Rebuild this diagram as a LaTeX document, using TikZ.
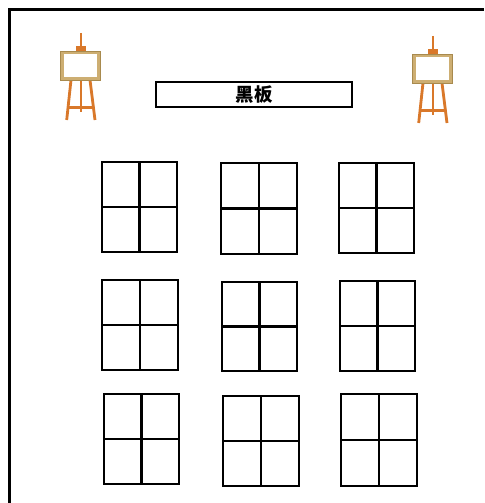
\documentclass[tikz,border=0pt]{standalone}
\usepackage{tikz}
\usepackage{fontspec}
\newfontfamily\cjk{Noto Sans CJK SC}
\definecolor{easelwood}{HTML}{D9782A}
\definecolor{framegold}{HTML}{CDAE72}
\definecolor{frameedge}{HTML}{A88A4E}

\begin{document}
\begin{tikzpicture}[scale=0.2]
\tikzstyle{every node}+=[inner sep=0pt]
\tikzstyle{wall}=[black, line width=1.3pt]
\tikzstyle{desk}=[black, line width=1.25pt]
\tikzstyle{wood}=[easelwood, line width=1.6pt]
\tikzstyle{canvas}=[draw=frameedge, fill=framegold, line width=0.4pt]
\useasboundingbox (0,0) rectangle (48.4,-50.3);
% walls of the room
\draw [wall] (0.95,-50.3) -- (0.95,-0.95) -- (48.4,-0.95);
% blackboard
\draw [desk] (15.6,-8.23) rectangle (35.23,-10.73);
\draw (25.4,-9.5) node (heiban) {\cjk\bfseries\fontsize{10.5}{12}\selectfont 黑板};
% left easel
\draw [wood] (8.1,-3.3) -- (8.1,-5.1);
\fill [easelwood] (7.6,-4.6) rectangle (8.6,-5.15);
\draw [wood] (7.1,-8.0) -- (6.67,-12.0);
\draw [wood] (8.1,-8.0) -- (8.1,-11.2);
\draw [wood] (9.0,-8.0) -- (9.5,-12.0);
\draw [wood] (6.85,-10.73) -- (9.3,-10.73);
\draw [canvas] (6.0,-5.1) rectangle (10.07,-8.07);
\fill [white] (6.35,-5.45) rectangle (9.72,-7.72);
% right easel
\draw [wood] (43.3,-3.6) -- (43.3,-5.4);
\fill [easelwood] (42.8,-4.9) rectangle (43.8,-5.45);
\draw [wood] (42.3,-8.3) -- (41.87,-12.3);
\draw [wood] (43.3,-8.3) -- (43.3,-11.5);
\draw [wood] (44.2,-8.3) -- (44.7,-12.3);
\draw [wood] (42.05,-11.03) -- (44.5,-11.03);
\draw [canvas] (41.2,-5.4) rectangle (45.27,-8.37);
\fill [white] (41.55,-5.75) rectangle (44.92,-8.02);
% desks, first row
\draw [desk] (10.2,-16.2) rectangle (17.7,-25.2) (13.95,-16.2) -- (13.95,-25.2) (10.2,-20.7) -- (17.7,-20.7);
\draw [desk] (22.1,-16.3) rectangle (29.7,-25.4) (25.9,-16.3) -- (25.9,-25.4) (22.1,-20.85) -- (29.7,-20.85);
\draw [desk] (33.9,-16.3) rectangle (41.4,-25.3) (37.65,-16.3) -- (37.65,-25.3) (33.9,-20.8) -- (41.4,-20.8);
% second row
\draw [desk] (10.2,-28.0) rectangle (17.8,-37.0) (14.0,-28.0) -- (14.0,-37.0) (10.2,-32.5) -- (17.8,-32.5);
\draw [desk] (22.2,-28.2) rectangle (29.7,-37.1) (25.95,-28.2) -- (25.95,-37.1) (22.2,-32.65) -- (29.7,-32.65);
\draw [desk] (34.0,-28.1) rectangle (41.5,-37.1) (37.75,-28.1) -- (37.75,-37.1) (34.0,-32.6) -- (41.5,-32.6);
% third row
\draw [desk] (10.4,-39.4) rectangle (17.9,-48.4) (14.15,-39.4) -- (14.15,-48.4) (10.4,-43.9) -- (17.9,-43.9);
\draw [desk] (22.3,-39.6) rectangle (29.9,-48.6) (26.1,-39.6) -- (26.1,-48.6) (22.3,-44.1) -- (29.9,-44.1);
\draw [desk] (34.1,-39.4) rectangle (41.7,-48.6) (37.9,-39.4) -- (37.9,-48.6) (34.1,-44.0) -- (41.7,-44.0);
\end{tikzpicture}
\end{document}
